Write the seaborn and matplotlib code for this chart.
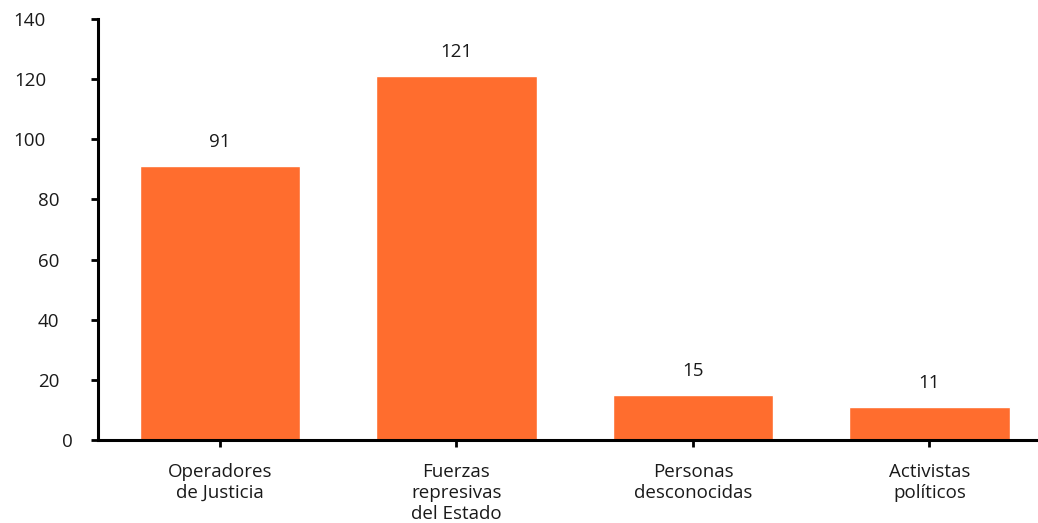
import matplotlib
matplotlib.use("Agg")
import matplotlib.pyplot as plt
import matplotlib.transforms as mtransforms
import seaborn as sns
import pandas as pd

categories = ["Operadores\nde Justicia", "Fuerzas\nrepresivas\ndel Estado",
              "Personas\ndesconocidas", "Activistas\npolíticos"]
values = [91, 121, 15, 11]
yticks = [0, 20, 40, 60, 80, 100, 120, 140]

sns.set_theme(style="white")
plt.rcParams["font.family"] = ["Open Sans", "DejaVu Sans"]

df = pd.DataFrame({"cat": categories, "val": values})

fig = plt.figure(figsize=(10.38, 5.23), dpi=100)
ax = fig.add_axes([0.0944, 0.1587, 1 - 0.0944, 0.9637 - 0.1587])

sns.barplot(data=df, x="cat", y="val", color="#FF6D2E", saturation=1,
            width=0.677, ax=ax)

for i, v in enumerate(values):
    ax.annotate(str(v), (i, v), xytext=(0, 11), textcoords="offset points",
                ha="center", va="bottom", fontsize=13.5, color="#1a1a1a")

ax.set_ylim(0, 140)
ax.set_xlim(-0.516, 3.459)
ax.set_yticks(yticks)
ax.set_xlabel("")
ax.set_ylabel("")
for s in ["top", "right"]:
    ax.spines[s].set_visible(False)
for s in ["left", "bottom"]:
    ax.spines[s].set_linewidth(2.2)
    ax.spines[s].set_color("black")
ax.tick_params(axis="both", direction="out", length=5, width=2, color="black",
               labelsize=13.5, labelcolor="#1a1a1a", left=True, bottom=True)
ax.tick_params(axis="y", pad=13)
ax.tick_params(axis="x", pad=11.5)
for lbl in ax.get_xticklabels():
    lbl.set_linespacing(1.2)

# wider numbers sit further left of the axis
fig.canvas.draw()
for lbl, t in zip(ax.get_yticklabels(), yticks):
    shift = -(len(str(t)) - 1) * 9.7 / 72
    lbl.set_transform(lbl.get_transform() +
                      mtransforms.ScaledTranslation(shift, 0, fig.dpi_scale_trans))

fig.savefig("out.png", dpi=100)
